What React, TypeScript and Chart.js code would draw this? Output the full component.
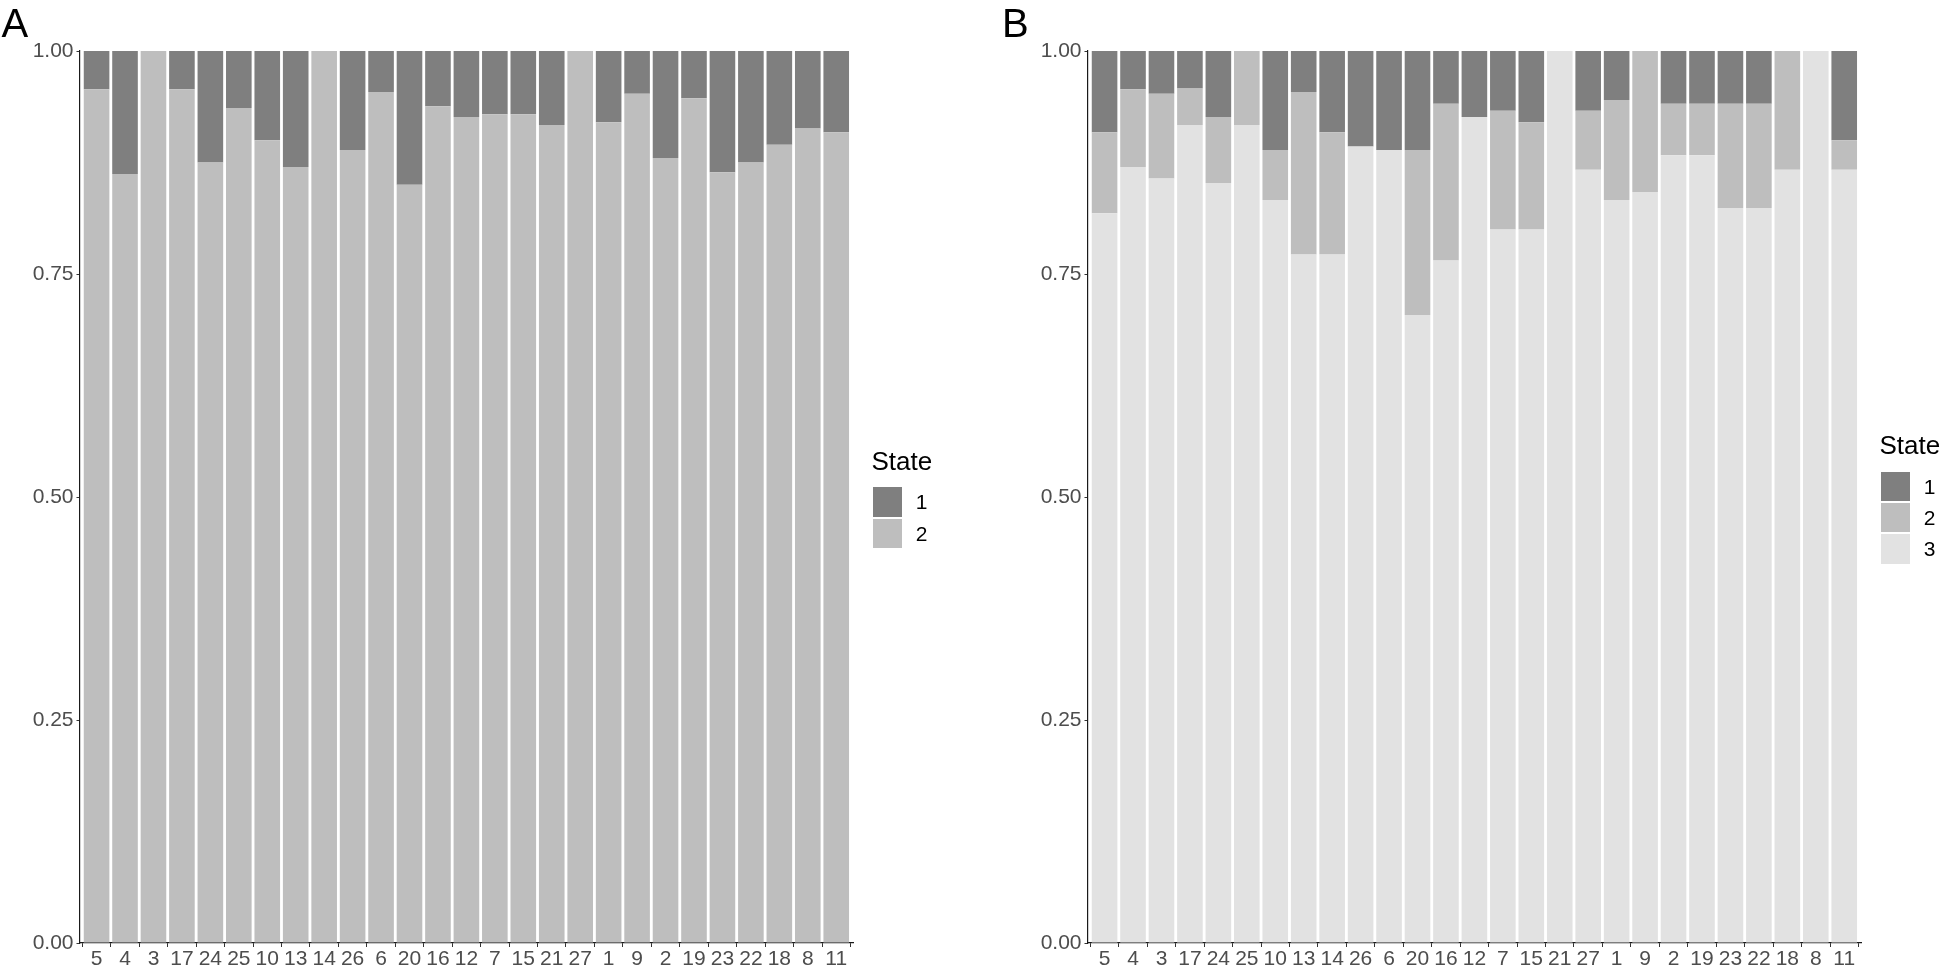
import React, { useEffect, useRef } from "react";
import { Chart, registerables } from "chart.js";

Chart.register(...registerables);

// ---------- data ----------
const categories = [
  "5", "4", "3", "17", "24", "25", "10", "13", "14", "26", "6", "20", "16", "12",
  "7", "15", "21", "27", "1", "9", "2", "19", "23", "22", "18", "8", "11",
];

const stateNames = ["1", "2", "3"];
const stateColors = ["#7f7f7f", "#bebebe", "#e2e2e2"];
const yTickValues = [0, 0.25, 0.5, 0.75, 1];

// Panel A (two states)
const panelAState1 = [
  0.043, 0.138, 0, 0.043, 0.125, 0.064, 0.1, 0.13, 0, 0.111, 0.046, 0.15, 0.062, 0.074,
  0.071, 0.071, 0.083, 0, 0.08, 0.048, 0.12, 0.053, 0.136, 0.125, 0.105, 0.087, 0.091,
];
const panelAState2 = [
  0.957, 0.862, 1, 0.957, 0.875, 0.936, 0.9, 0.87, 1, 0.889, 0.954, 0.85, 0.938, 0.926,
  0.929, 0.929, 0.917, 1, 0.92, 0.952, 0.88, 0.947, 0.864, 0.875, 0.895, 0.913, 0.909,
];

// Panel B (three states)
const panelBState1 = [
  0.091, 0.043, 0.048, 0.042, 0.074, 0, 0.111, 0.046, 0.091, 0.107, 0.111, 0.111, 0.059, 0.074,
  0.067, 0.08, 0, 0.067, 0.055, 0, 0.059, 0.059, 0.059, 0.059, 0, 0, 0.1,
];
const panelBState2 = [
  0.091, 0.087, 0.095, 0.041, 0.074, 0.083, 0.056, 0.182, 0.137, 0, 0, 0.185, 0.176, 0,
  0.133, 0.12, 0, 0.066, 0.112, 0.158, 0.058, 0.058, 0.117, 0.117, 0.133, 0, 0.033,
];
const panelBState3 = [
  0.818, 0.87, 0.857, 0.917, 0.852, 0.917, 0.833, 0.772, 0.772, 0.893, 0.889, 0.704, 0.765, 0.926,
  0.8, 0.8, 1, 0.867, 0.833, 0.842, 0.883, 0.883, 0.824, 0.824, 0.867, 1, 0.867,
];

// ---------- styling ----------
const FONT = "'Liberation Sans', Arial, Helvetica, sans-serif";
const TICK_COLOR = "#4d4d4d";
const CANVAS_H = 969;

type PanelSpec = {
  letter: string;
  left: number;
  width: number;
  axisX: number; // chart-area left, relative to canvas
  plotRight: number; // chart-area right, relative to canvas
  series: number[][]; // state 1 first
  letterLeft: number;
  legendLeft: number; // absolute x of legend keys
  legendTitleTop: number;
  legendKeyTop: number;
};

function buildConfig(p: PanelSpec): any {
  const datasets = p.series
    .map((vals, k) => ({
      label: stateNames[k],
      data: vals.map((v, i) => ({ x: i + 1, y: v })),
      backgroundColor: stateColors[k],
      borderWidth: 0,
      barPercentage: 0.9,
      categoryPercentage: 1,
    }))
    .reverse();

  const gridOpts = {
    display: true,
    drawOnChartArea: false,
    drawTicks: true,
    tickLength: 4,
    tickColor: "#333333",
    tickWidth: 1,
  };
  const borderOpts = { display: true, color: "#1a1a1a", width: 1.2 };
  const tickFont = { size: 21, family: FONT };

  return {
    type: "bar",
    data: { datasets },
    options: {
      animation: false,
      responsive: false,
      devicePixelRatio: 1,
      events: [],
      layout: { padding: { left: 0, right: p.width - p.plotRight, top: 51, bottom: 0 } },
      plugins: { legend: { display: false }, tooltip: { enabled: false }, title: { display: false } },
      scales: {
        x: {
          type: "linear",
          stacked: true,
          min: 0.4,
          max: 27.6,
          offset: false,
          afterBuildTicks: (s: any) => {
            s.ticks = categories.map((_, i) => ({ value: i + 1 }));
          },
          afterFit: (s: any) => {
            s.height = 26;
          },
          ticks: {
            autoSkip: false,
            maxRotation: 0,
            minRotation: 0,
            padding: 0,
            color: TICK_COLOR,
            font: tickFont,
            callback: (v: any) => categories[Math.round(Number(v)) - 1],
          },
          grid: gridOpts,
          border: borderOpts,
        },
        y: {
          stacked: true,
          min: 0,
          max: 1,
          afterBuildTicks: (s: any) => {
            s.ticks = yTickValues.map((v) => ({ value: v }));
          },
          afterFit: (s: any) => {
            s.width = p.axisX;
          },
          ticks: {
            padding: 3,
            color: TICK_COLOR,
            font: tickFont,
            callback: (v: any) => Number(v).toFixed(2),
          },
          grid: { ...gridOpts, tickLength: 3 },
          border: borderOpts,
        },
      },
    },
  };
}

function Panel({ p }: { p: PanelSpec }) {
  const ref = useRef<HTMLCanvasElement | null>(null);
  useEffect(() => {
    if (!ref.current) return;
    const chart = new Chart(ref.current, buildConfig(p));
    return () => chart.destroy();
  }, []);

  const n = p.series.length;
  const keyPitch = 31.3;
  return (
    <>
      <canvas
        ref={ref}
        width={p.width}
        height={CANVAS_H}
        style={{ position: "absolute", left: p.left, top: 0, width: p.width, height: CANVAS_H }}
      />
      <div
        style={{
          position: "absolute",
          left: p.letterLeft,
          top: 3,
          fontFamily: FONT,
          fontSize: 40,
          lineHeight: "40px",
          color: "#000",
        }}
      >
        {p.letter}
      </div>
      <div
        style={{
          position: "absolute",
          left: p.legendLeft - 1.2,
          top: p.legendTitleTop - 3.4,
          fontFamily: FONT,
          fontSize: 26,
          lineHeight: "26px",
          color: "#000",
        }}
      >
        State
      </div>
      {stateNames.slice(0, n).map((name, k) => (
        <React.Fragment key={name}>
          <div
            style={{
              position: "absolute",
              left: p.legendLeft,
              top: p.legendKeyTop + k * keyPitch,
              width: 29.5,
              height: 29.3,
              background: stateColors[k],
            }}
          />
          <div
            style={{
              position: "absolute",
              left: p.legendLeft + 43,
              top: p.legendKeyTop + k * keyPitch,
              height: 29.3,
              lineHeight: "29.3px",
              fontFamily: FONT,
              fontSize: 21,
              color: "#000",
            }}
          >
            {name}
          </div>
        </React.Fragment>
      ))}
    </>
  );
}

const panelA: PanelSpec = {
  letter: "A",
  left: 0,
  width: 975,
  axisX: 79.5,
  plotRight: 853.3,
  series: [panelAState1, panelAState2],
  letterLeft: 1.5,
  legendLeft: 872.7,
  legendTitleTop: 451.7,
  legendKeyTop: 487.3,
};

const panelB: PanelSpec = {
  letter: "B",
  left: 975,
  width: 971,
  axisX: 112.5,
  plotRight: 886.3,
  series: [panelBState1, panelBState2, panelBState3],
  letterLeft: 1002,
  legendLeft: 1880.7,
  legendTitleTop: 435,
  legendKeyTop: 471.7,
};

export default function App() {
  return (
    <div
      style={{
        position: "absolute",
        left: 0,
        top: 0,
        width: 1946,
        height: CANVAS_H,
        background: "#fff",
        overflow: "hidden",
      }}
    >
      <Panel p={panelA} />
      <Panel p={panelB} />
    </div>
  );
}
